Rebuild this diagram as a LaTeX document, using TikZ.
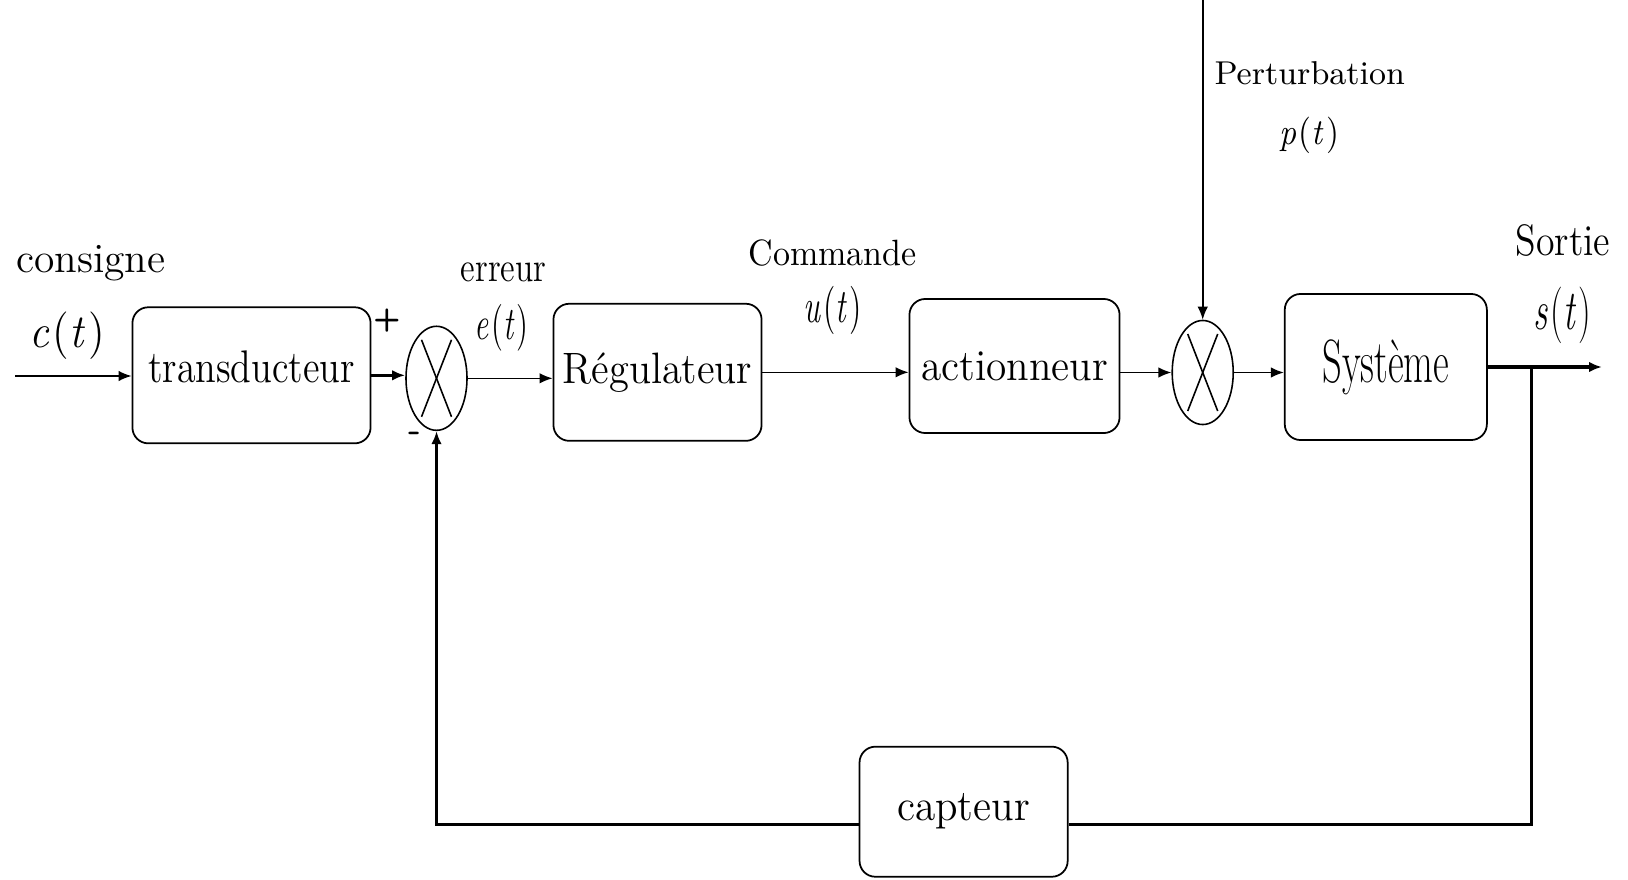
\documentclass[tikz,border=0pt]{standalone}
\usepackage{fontspec}
\usetikzlibrary{arrows.meta,shapes.geometric,calc}
\newcommand{\mylbl}[3]{{\fontsize{#1}{#1}\selectfont\scalebox{#2}[1]{#3}}}
\newcommand{\fnt}[1]{\textit{#1}\kern0.08em(\textit{t}\kern0.06em)}
\begin{document}
\begin{tikzpicture}[x=0.01cm,y=-0.01cm,
  box/.style={draw,line width=0.5pt,rounded corners=4.5pt,inner sep=0pt,align=center},
  sumnode/.style={draw,ellipse,line width=0.45pt,inner sep=0pt,minimum width=0.61cm,minimum height=1.04cm},
  thinln/.style={line width=0.45pt},
  thickln/.style={line width=0.9pt},
  arr/.style={-{Latex[length=3.7pt,width=3pt]}},
  txt/.style={inner sep=0pt}]
\useasboundingbox (0,0) rectangle (1628,879);

% blocks
\node[box,minimum width=2.38cm,minimum height=1.36cm] (trans) at (251.5,375.3) {\mylbl{13}{0.83}{transducteur}\rule[-5pt]{0pt}{5pt}};
\node[sumnode] (s1) at (436.5,378.3) {};
\node[box,minimum width=2.08cm,minimum height=1.37cm] (reg) at (657.5,372.3) {\mylbl{12.5}{0.92}{Régulateur}};
\node[box,minimum width=2.10cm,minimum height=1.34cm] (act) at (1014.5,366) {\mylbl{12.5}{0.94}{actionneur}};
\node[sumnode] (s2) at (1202.7,372.5) {};
\node[box,minimum width=2.02cm,minimum height=1.46cm] (sys) at (1385.8,367) {\mylbl{17.4}{0.63}{Système}};
\node[box,minimum width=2.08cm,minimum height=1.30cm] (cap) at (963.6,811.7) {\mylbl{12.5}{0.94}{capteur}};

% labels
\node[txt,anchor=base] (lcons) at (91,272) {\mylbl{11.8}{1}{consigne}};
\node[txt] (lc) at (67,336) {\mylbl{13.5}{0.92}{\fnt{c}}};
\node[txt] (lplus) at (387,321) {\fontsize{9}{9}\selectfont\sffamily\bfseries +};
\node[txt] (lminus) at (415,437) {\fontsize{10}{10}\selectfont\sffamily\bfseries -};
\node[txt,anchor=base] (lerr) at (503.6,281) {\mylbl{11.9}{0.8}{erreur}};
\node[txt] (le) at (501.7,328.3) {\mylbl{13.3}{0.67}{\fnt{e}}};
\node[txt,anchor=base] (lcmd) at (832.7,265) {\mylbl{10.4}{0.93}{Commande}};
\node[txt] (lu) at (832.5,310) {\mylbl{13.7}{0.67}{\fnt{u}}};
\node[txt,anchor=base] (lpert) at (1309.7,85) {\mylbl{9.4}{1}{Perturbation}};
\node[txt] (lp) at (1309,135) {\mylbl{10.4}{0.91}{\fnt{p}}};
\node[txt,anchor=base] (lsort) at (1563,255) {\mylbl{12.5}{0.86}{Sortie}};
\node[txt] (ls) at (1562,315) {\mylbl{16.1}{0.63}{\fnt{s}}};

% free ends
\coordinate (in) at (15,376);
\coordinate (ptop) at (1200,0);
\coordinate (outc) at (1602,370);
\coordinate (fb) at (1531.7,824.3);

% X in summing junctions
\foreach \s in {s1,s2}{
  \draw[thinln] ($(\s.center)+(-15,-38.5)$) -- ($(\s.center)+(15,38.5)$);
  \draw[thinln] ($(\s.center)+(15,-38.5)$) -- ($(\s.center)+(-15,38.5)$);
}

% connectors
\draw[thinln,arr] (in) -- (in -| trans.west);
\draw[thickln,arr] (trans.east) -- (trans.east -| s1.west);
\draw[thinln,arr] (s1.east) -- (s1.east -| reg.west);
\draw[thinln,arr] (reg.east) -- (reg.east -| act.west);
\draw[thinln,arr] (s2.west -| act.east) -- (s2.west);
\draw[thinln,arr] (s2.east) -- (s2.east -| sys.west);
\draw[thinln,arr] (ptop -| s2.north) -- (s2.north);
\draw[thickln,arr] (sys.east) -- (sys.east -| outc);
\draw[thickln] (sys.east -| fb) -- (fb) -- (cap.east |- fb);
\draw[thickln,arr] (cap.west |- fb) -| (s1.south);
\end{tikzpicture}
\end{document}
